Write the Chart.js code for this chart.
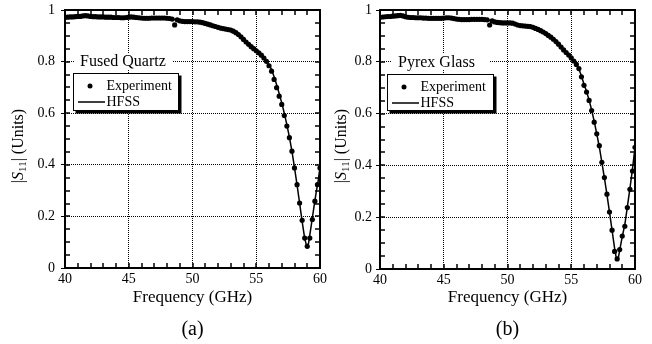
<!DOCTYPE html>
<html lang="en">
<head>
<meta charset="utf-8">
<title>|S11| x Frequency</title>
<script src="https://cdn.jsdelivr.net/npm/chart.js@4.4.1/dist/chart.umd.min.js"></script>
<style>
  html, body { margin: 0; padding: 0; background: #fff; }
  #painel { position: relative; width: 652px; height: 344px; }
  #painel canvas { position: absolute; top: 0; }
</style>
</head>
<body>
<div id="painel">
  <canvas id="grafico-a" width="330" height="344" style="left:0"></canvas>
  <canvas id="grafico-b" width="322" height="344" style="left:330px"></canvas>
</div>
<script>
/* ── Dados ───────────────────────────────────────────────────── */

/** Eixos: rótulos dos ticks principais */
const ticksX = [40, 45, 50, 55, 60];
const ticksY = [0, 0.2, 0.4, 0.6, 0.8, 1];

/** Frequências da medição (GHz), passo de 0,2 GHz — iguais nos dois painéis */
const frequenciasExp = [
  40.0, 40.2, 40.4, 40.6, 40.8, 41.0, 41.2, 41.4, 41.6, 41.8,
  42.0, 42.2, 42.4, 42.6, 42.8, 43.0, 43.2, 43.4, 43.6, 43.8,
  44.0, 44.2, 44.4, 44.6, 44.8, 45.0, 45.2, 45.4, 45.6, 45.8,
  46.0, 46.2, 46.4, 46.6, 46.8, 47.0, 47.2, 47.4, 47.6, 47.8,
  48.0, 48.2, 48.4, 48.6, 48.8, 49.0, 49.2, 49.4, 49.6, 49.8,
  50.0, 50.2, 50.4, 50.6, 50.8, 51.0, 51.2, 51.4, 51.6, 51.8,
  52.0, 52.2, 52.4, 52.6, 52.8, 53.0, 53.2, 53.4, 53.6, 53.8,
  54.0, 54.2, 54.4, 54.6, 54.8, 55.0, 55.2, 55.4, 55.6, 55.8,
  56.0, 56.2, 56.4, 56.6, 56.8, 57.0, 57.2, 57.4, 57.6, 57.8,
  58.0, 58.2, 58.4, 58.6, 58.8, 59.0, 59.2, 59.4, 59.6, 59.8,
  60.0,
];

/** (a) Fused Quartz — medição */
const expQuartzo = [
  0.972, 0.972, 0.973, 0.973, 0.974, 0.975, 0.975, 0.977, 0.978, 0.977,
  0.975, 0.974, 0.974, 0.973, 0.973, 0.973, 0.972, 0.972, 0.972, 0.971,
  0.971, 0.971, 0.970, 0.970, 0.971, 0.972, 0.973, 0.972, 0.971, 0.970,
  0.969, 0.968, 0.968, 0.968, 0.969, 0.969, 0.969, 0.969, 0.969, 0.969,
  0.968, 0.967, 0.965, 0.942, 0.962, 0.958, 0.956, 0.955, 0.955, 0.955,
  0.955, 0.954, 0.954, 0.953, 0.951, 0.948, 0.945, 0.942, 0.939, 0.936,
  0.933, 0.930, 0.928, 0.926, 0.924, 0.922, 0.918, 0.912, 0.905, 0.896,
  0.886, 0.876, 0.867, 0.858, 0.850, 0.842, 0.834, 0.825, 0.814, 0.801,
  0.784, 0.763, 0.731, 0.699, 0.666, 0.634, 0.591, 0.550, 0.505, 0.453,
  0.388, 0.323, 0.252, 0.185, 0.116, 0.084, 0.116, 0.188, 0.259, 0.323,
  0.388,
];

/** (a) Fused Quartz — simulação HFSS */
const freqHfssQuartzo = [
  40.0, 40.5, 41.0, 41.5, 42.0, 42.5, 43.0, 43.5, 44.0, 44.5,
  45.0, 45.5, 46.0, 46.5, 47.0, 47.5, 48.0, 48.5, 49.0, 49.5,
  50.0, 50.5, 51.0, 51.5, 52.0, 52.5, 53.0, 53.5, 54.0, 54.5,
  55.0, 55.4, 55.8, 56.0, 56.2, 56.4, 56.6, 56.8, 57.0, 57.2,
  57.4, 57.6, 57.8, 58.0, 58.2, 58.4, 58.6, 58.8, 58.95, 59.1,
  59.3, 59.5, 59.7, 59.85, 60.0,
];
const hfssQuartzo = [
  0.972, 0.973, 0.975, 0.977, 0.975, 0.973, 0.973, 0.972, 0.971, 0.970,
  0.972, 0.971, 0.969, 0.968, 0.969, 0.969, 0.968, 0.964, 0.958, 0.955,
  0.955, 0.954, 0.948, 0.941, 0.933, 0.927, 0.921, 0.909, 0.887, 0.863,
  0.843, 0.826, 0.803, 0.789, 0.769, 0.741, 0.710, 0.676, 0.640, 0.600,
  0.556, 0.507, 0.452, 0.389, 0.322, 0.252, 0.180, 0.115, 0.086, 0.095,
  0.160, 0.228, 0.293, 0.335, 0.390,
];

/** (b) Pyrex Glass — medição */
const expPyrex = [
  0.972, 0.973, 0.974, 0.975, 0.975, 0.976, 0.977, 0.978, 0.979, 0.977,
  0.974, 0.972, 0.971, 0.971, 0.970, 0.970, 0.970, 0.969, 0.969, 0.968,
  0.968, 0.968, 0.968, 0.968, 0.968, 0.969, 0.970, 0.970, 0.969, 0.967,
  0.965, 0.964, 0.963, 0.963, 0.963, 0.963, 0.964, 0.964, 0.964, 0.964,
  0.964, 0.963, 0.962, 0.942, 0.958, 0.954, 0.952, 0.951, 0.950, 0.950,
  0.950, 0.950, 0.949, 0.946, 0.942, 0.940, 0.939, 0.938, 0.937, 0.936,
  0.933, 0.929, 0.925, 0.920, 0.915, 0.909, 0.902, 0.895, 0.887, 0.878,
  0.868, 0.857, 0.846, 0.836, 0.826, 0.815, 0.803, 0.790, 0.774, 0.742,
  0.709, 0.683, 0.651, 0.612, 0.567, 0.522, 0.476, 0.412, 0.353, 0.289,
  0.220, 0.150, 0.068, 0.039, 0.075, 0.127, 0.165, 0.237, 0.308, 0.378,
  0.470,
];

/** (b) Pyrex Glass — simulação HFSS */
const freqHfssPyrex = [
  40.0, 40.5, 41.0, 41.5, 42.0, 42.5, 43.0, 43.5, 44.0, 44.5,
  45.0, 45.5, 46.0, 46.5, 47.0, 47.5, 48.0, 48.5, 49.0, 49.5,
  50.0, 50.5, 51.0, 51.5, 52.0, 52.5, 53.0, 53.5, 54.0, 54.5,
  55.0, 55.2, 55.4, 55.6, 55.8, 56.0, 56.2, 56.4, 56.6, 56.8,
  57.0, 57.2, 57.4, 57.6, 57.8, 58.0, 58.2, 58.4, 58.55, 58.7,
  58.85, 59.0, 59.2, 59.4, 59.6, 59.8, 60.0,
];
const hfssPyrex = [
  0.972, 0.974, 0.976, 0.978, 0.974, 0.971, 0.970, 0.969, 0.968, 0.968,
  0.969, 0.970, 0.965, 0.963, 0.963, 0.964, 0.964, 0.961, 0.954, 0.951,
  0.950, 0.948, 0.940, 0.938, 0.933, 0.923, 0.909, 0.891, 0.868, 0.841,
  0.814, 0.801, 0.788, 0.772, 0.745, 0.713, 0.685, 0.652, 0.614, 0.570,
  0.522, 0.472, 0.412, 0.352, 0.287, 0.220, 0.150, 0.080, 0.038, 0.045,
  0.085, 0.125, 0.170, 0.240, 0.310, 0.385, 0.470,
];

/* ── Estilo ──────────────────────────────────────────────────── */

const FONTE = '"Liberation Serif", "Times New Roman", Times, serif';
Chart.defaults.font.family = FONTE;
Chart.defaults.color = '#000';

/**
 * Junta dois arrays (x, y) no formato de pontos do Chart.js.
 * @param {number[]} xs
 * @param {number[]} ys
 * @returns {Array<{x:number, y:number}>}
 */
function pares(xs, ys) {
  return xs.map((x, i) => ({ x, y: ys[i] }));
}

/* ── Plugins ─────────────────────────────────────────────────── */

/** Moldura grossa + ticks menores para dentro nos quatro lados */
const pluginMoldura = {
  id: 'moldura',
  beforeDatasetsDraw(chart) {
    const { ctx, chartArea: a, scales: { x, y } } = chart;
    ctx.save();
    ctx.strokeStyle = '#000';
    ctx.lineWidth = 1.5;
    ctx.beginPath();
    for (let f = 41; f < 60; f++) {
      const px = Math.round(x.getPixelForValue(f));
      ctx.moveTo(px, a.bottom); ctx.lineTo(px, a.bottom - 5);
      ctx.moveTo(px, a.top);    ctx.lineTo(px, a.top + 5);
    }
    for (let k = 1; k < 20; k++) {
      const py = Math.round(y.getPixelForValue(k * 0.05));
      ctx.moveTo(a.left, py);  ctx.lineTo(a.left + 5, py);
      ctx.moveTo(a.right, py); ctx.lineTo(a.right - 5, py);
    }
    ctx.stroke();
    ctx.lineWidth = 2;
    ctx.strokeRect(a.left, a.top, a.right - a.left, a.bottom - a.top);
    ctx.restore();
  },
};

/** Rótulo do material (sobre a grade de 0,8) e caixa de legenda com sombra */
const pluginLegenda = {
  id: 'legendaCaixa',
  afterDatasetsDraw(chart, args, o) {
    const { ctx, scales: { y } } = chart;
    const yTit = y.getPixelForValue(0.8);
    ctx.save();

    // rótulo com fundo branco interrompendo a grade
    ctx.fillStyle = '#fff';
    ctx.fillRect(o.fundoX, yTit - 8, o.fundoL, 16);
    ctx.fillStyle = '#000';
    ctx.font = `16px ${FONTE}`;
    ctx.textBaseline = 'middle';
    ctx.fillText(o.titulo, o.tituloX, yTit + 0.5);

    // caixa com sombra
    const c = o.caixa;
    ctx.fillRect(c.x + 2.5, c.y + 2.5, c.w, c.h);
    ctx.fillStyle = '#fff';
    ctx.fillRect(c.x, c.y, c.w, c.h);
    ctx.strokeStyle = '#000';
    ctx.lineWidth = 1;
    ctx.strokeRect(c.x + 0.5, c.y + 0.5, c.w - 1, c.h - 1);

    const l1 = c.y + 13, l2 = c.y + 29;
    ctx.fillStyle = '#000';
    ctx.beginPath();
    ctx.arc(c.x + 17, l1, 2.5, 0, Math.PI * 2);
    ctx.fill();
    ctx.lineWidth = 1.5;
    ctx.beginPath();
    ctx.moveTo(c.x + 5, l2); ctx.lineTo(c.x + 32, l2);
    ctx.stroke();

    ctx.font = `14px ${FONTE}`;
    ctx.fillText('Experiment', c.x + 33.5, l1 + 0.5);
    ctx.fillText('HFSS', c.x + 33.5, l2 + 0.5);
    ctx.restore();
  },
};

/** Título do eixo Y: |S11| (Units), com S itálico e 11 subscrito */
const pluginTituloY = {
  id: 'tituloY',
  afterDraw(chart, args, o) {
    const { ctx } = chart;
    const partes = [
      { t: '|', f: `16px ${FONTE}`, dy: 0 },
      { t: 'S', f: `italic 16px ${FONTE}`, dy: 0 },
      { t: '11', f: `11px ${FONTE}`, dy: 3.5 },
      { t: '| (Units)', f: `16px ${FONTE}`, dy: 0 },
    ];
    ctx.save();
    ctx.translate(o.x, o.y);
    ctx.rotate(-Math.PI / 2);
    ctx.fillStyle = '#000';
    ctx.textBaseline = 'alphabetic';
    let total = 0;
    partes.forEach(p => { ctx.font = p.f; p.w = ctx.measureText(p.t).width; total += p.w; });
    let cx = -total / 2;
    partes.forEach(p => {
      ctx.font = p.f;
      ctx.fillText(p.t, cx, 5.5 + p.dy);
      cx += p.w;
    });
    ctx.restore();
  },
};

/* ── Construção dos gráficos ─────────────────────────────────── */

/**
 * Cria um painel (a) ou (b).
 * @param {string} idCanvas
 * @param {object} cfg - dados e ajustes de layout do painel
 */
function criarGrafico(idCanvas, cfg) {
  const semBorda = c => (c.tick && (c.tick.value === 0 || c.tick.value === 1 ||
    c.tick.value === 40 || c.tick.value === 60)) ? 'rgba(0,0,0,0)' : '#000';

  return new Chart(document.getElementById(idCanvas), {
    type: 'scatter',
    data: {
      datasets: [
        {
          label: 'Experiment',
          data: pares(frequenciasExp, cfg.exp),
          showLine: false,
          pointRadius: 2.6,
          pointBackgroundColor: '#000',
          pointBorderWidth: 0,
          order: 0,
        },
        {
          label: 'HFSS',
          data: pares(cfg.freqHfss, cfg.hfss),
          showLine: true,
          borderColor: '#000',
          borderWidth: 1.5,
          pointRadius: 0,
          tension: 0,
          order: 1,
        },
      ],
    },
    options: {
      responsive: false,
      animation: false,
      devicePixelRatio: 1,
      layout: { padding: { top: 10, right: cfg.margemDir, left: 0, bottom: 0 } },
      plugins: {
        legend: { display: false },
        tooltip: { enabled: false },
        title: {
          display: true,
          text: cfg.letra,
          position: 'bottom',
          fullSize: false,
          color: '#000',
          font: { family: FONTE, size: 20, weight: 'normal' },
          padding: { top: 0, bottom: 2 },
        },
        legendaCaixa: cfg.legenda,
        tituloY: cfg.tituloY,
      },
      scales: {
        x: {
          type: 'linear',
          min: 40,
          max: 60,
          afterBuildTicks: s => { s.ticks = ticksX.map(v => ({ value: v })); },
          // altura fixa para a área do gráfico cair no mesmo pixel do original
          afterFit: s => { s.height = cfg.alturaX; s.paddingLeft = 0; s.paddingRight = 0; },
          ticks: { color: '#000', font: { size: 14 }, padding: 3, maxRotation: 0 },
          grid: { drawTicks: false, color: semBorda, lineWidth: 1 },
          border: { display: false, dash: [1, 1] },
          title: {
            display: true,
            text: 'Frequency (GHz)',
            color: '#000',
            font: { size: 17 },
            padding: { top: 0, bottom: 10 },
          },
        },
        y: {
          min: 0,
          max: 1,
          afterBuildTicks: s => { s.ticks = ticksY.map(v => ({ value: v })); },
          afterFit: s => { s.width = cfg.larguraY; s.paddingTop = 0; s.paddingBottom = 0; },
          ticks: {
            color: '#000',
            font: { size: 14 },
            padding: cfg.respiroY,
            callback: v => String(+v.toFixed(1)),
          },
          grid: { drawTicks: true, tickLength: 4, tickColor: '#000', color: semBorda, lineWidth: 1 },
          border: { display: false, dash: [1, 1] },
        },
      },
    },
    plugins: [pluginMoldura, pluginLegenda, pluginTituloY],
  });
}

criarGrafico('grafico-a', {
  letra: '(a)',
  exp: expQuartzo,
  freqHfss: freqHfssQuartzo,
  hfss: hfssQuartzo,
  margemDir: 10,
  larguraY: 65,
  alturaX: 50,
  respiroY: 6,
  tituloY: { x: 17, y: 146 },
  legenda: {
    titulo: 'Fused Quartz', tituloX: 80, fundoX: 75, fundoL: 97,
    caixa: { x: 73, y: 73, w: 106, h: 38 },
  },
});

criarGrafico('grafico-b', {
  letra: '(b)',
  exp: expPyrex,
  freqHfss: freqHfssPyrex,
  hfss: hfssPyrex,
  margemDir: 17,
  larguraY: 50,
  alturaX: 49,
  respiroY: 4,
  tituloY: { x: 10, y: 146 },
  legenda: {
    titulo: 'Pyrex Glass', tituloX: 68, fundoX: 62, fundoL: 97,
    caixa: { x: 57, y: 74, w: 107, h: 37 },
  },
});
</script>
</body>
</html>
